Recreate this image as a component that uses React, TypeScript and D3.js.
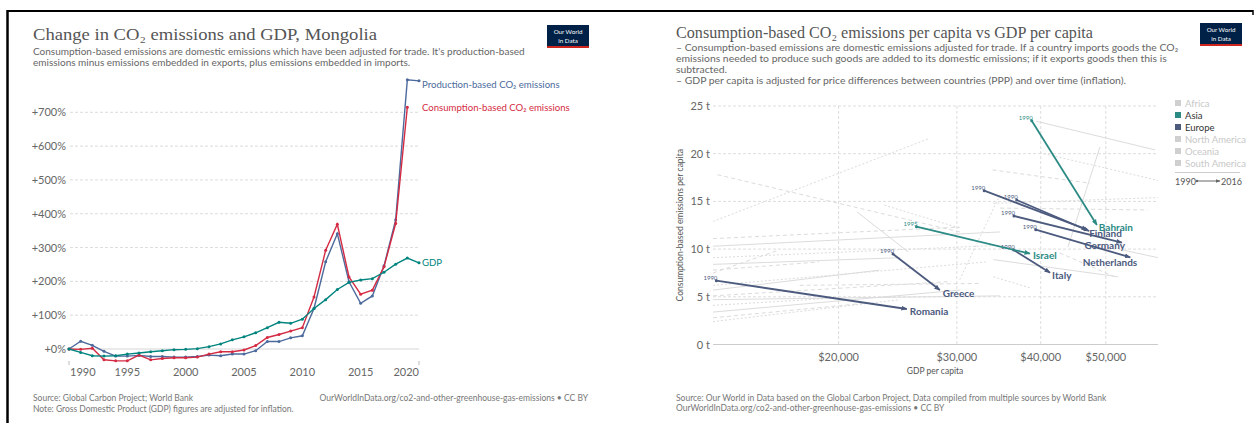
import React from 'react';
import * as d3 from 'd3';

// ---------- LEFT CHART DATA ----------
const years = [1990, 1991, 1992, 1993, 1994, 1995, 1996, 1997, 1998, 1999, 2000, 2001, 2002, 2003, 2004, 2005, 2006, 2007, 2008, 2009, 2010, 2011, 2012, 2013, 2014, 2015, 2016, 2017, 2018, 2019, 2020];
const productionCO2 = [0, 23, 11, -7, -21, -21, -19, -22, -22, -24, -24, -22, -18, -20, -15, -15, -5, 22, 22, 33, 39, 120, 258, 341, 199, 135, 157, 246, 382, 796, 793];
const consumptionCO2 = [0, -1, 2, -32, -35, -35, -18, -32, -28, -26, -26, -24, -15, -8, -8, -3, 10, 34, 43, 53, 63, 154, 292, 369, 213, 162, 174, 243, 371, 715];
const gdpChange = [0, -10, -20, -21, -20, -15, -12, -8, -5, -2, -1, 1, 7, 15, 27, 36, 48, 63, 79, 76, 88, 120, 146, 176, 197, 204, 208, 227, 251, 269, 255];
const yTicksLeft = [0, 100, 200, 300, 400, 500, 600, 700];
const xTicksLeft = [1990, 1995, 2000, 2005, 2010, 2015, 2020];
const seriesNames = ['Production-based CO₂ emissions', 'Consumption-based CO₂ emissions', 'GDP'];

// ---------- RIGHT CHART DATA ----------
const yTicksRight = [0, 5, 10, 15, 20, 25];
const xTicksRight = [20000, 30000, 40000, 50000];
const regions = ['Africa', 'Asia', 'Europe', 'North America', 'Oceania', 'South America'];
const hlNames = ['Bahrain', 'Finland', '', 'Germany', 'Netherlands', 'Italy', 'Israel', 'Greece', 'Romania'];
const hlRegion = ['Asia', 'Europe', 'Europe', 'Europe', 'Europe', 'Europe', 'Asia', 'Europe', 'Europe'];
const hlStartYear = ['1990', '1990', '1990', '1990', '1990', '1990', '1995', '1990', '1990'];
const hlStartGdp = [38780, 32950, 36830, 36490, 39320, 36460, 26120, 24100, 13150];
const hlStartCo2 = [23.46, 16.12, 15.15, 13.47, 12.03, 9.9, 12.35, 9.49, 6.69];
const hlEndGdp = [48490, 46900, 47220, 52840, 54370, 41300, 38550, 28300, 25270];
const hlEndCo2 = [12.53, 12.05, 11.9, 10.67, 9.14, 7.53, 9.52, 5.71, 3.72];

const greyStartGdp = [13000, 13200, 21300, 23400, 13000, 13000, 34000, 34800, 39400, 39900, 33900, 43900, 30300, 42700, 53000, 13000, 13000, 13000, 13000, 13000, 13000, 13000, 13000, 13000, 13000, 13000, 34000, 34000, 17500, 13000];
const greyStartCo2 = [12.9, 17.8, 13.9, 14.6, 11.1, 10.3, 14.8, 14.3, 23.4, 20.1, 18.3, 10.2, 6.8, 9.6, 9.9, 2.4, 2.8, 3.4, 4.1, 5.1, 5.7, 6.2, 7.8, 8.4, 9.1, 7.5, 8.9, 7.1, 6.2, 4.7];
const greyEndGdp = [27300, 30300, 25400, 30300, 30300, 34800, 59800, 57700, 59200, 59800, 47400, 49000, 34900, 51500, 59800, 24700, 22100, 30300, 20100, 29400, 23000, 33100, 18700, 24700, 34800, 16300, 52200, 38700, 32500, 34800];
const greyEndCo2 = [21.6, 11.8, 9.7, 12.2, 12.3, 11.8, 15.4, 14.1, 20.4, 17.2, 16.9, 20.7, 15.9, 7.1, 9.1, 4.7, 4.35, 5.7, 4.9, 6.6, 7.8, 8.65, 8.65, 9.1, 10.4, 9.9, 7.1, 5.9, 6.4, 5.1];

// ---------- STYLE ----------
const SANS = "Lato, 'Noto Sans', sans-serif";
const SERIF = "'Liberation Serif', 'DejaVu Serif', serif";
const BLUE = '#4c6a9c';
const RED = '#d42b43';
const TEAL = '#00847e';
const ASIA = '#2b8a84';
const EUROPE = '#4c5a7e';
const GREY = '#cfcfcf';
const seriesColors = [BLUE, RED, TEAL];
const labelNudge = [4, 0, 0];
const hlLabelDx = [2, 2, 0, 3, 7, 2, 3, 3, 3];
const hlLabelDy = [2.2, 4.2, 0, 3, 5, 3.3, 2, 3, 2];
const hlLabelAnchor = ['start', 'start', 'start', 'end', 'end', 'start', 'start', 'start', 'start'];
const greyDash = ['2,2', '4,3', 'none'];

function Logo({ x, y }: { x: number; y: number }) {
  return (
    <g transform={`translate(${x},${y})`}>
      <rect width={42} height={21} fill="#002147" />
      <rect y={21} width={42} height={2} fill="#ce261e" />
      <text textAnchor="middle" fill="#fff" fontSize={6.2} fontFamily={SANS}>
        <tspan x={21} y={8.5}>Our World</tspan>
        <tspan x={21} y={17.5}>in Data</tspan>
      </text>
    </g>
  );
}

function LeftChart() {
  const xL = d3.scaleLinear().domain([1990, 2020]).range([69, 419]);
  const yL = d3.scaleLinear().domain([0, 700]).range([349, 112.3]);
  const all = [productionCO2, consumptionCO2, gdpChange];
  const line = (vals: number[]) =>
    d3.line<number>().x((_, i) => xL(years[i])).y((d) => yL(d))(vals) || '';
  return (
    <g>
      <text x={33} y={40} fontFamily={SERIF} fontSize={17.5} fill="#555" textLength={344} lengthAdjust="spacingAndGlyphs">
        Change in CO₂ emissions and GDP, Mongolia
      </text>
      <text x={33} y={55} fontFamily={SANS} fontSize={10} fill="#666">
        Consumption-based emissions are domestic emissions which have been adjusted for trade. It's production-based
      </text>
      <text x={33} y={66} fontFamily={SANS} fontSize={10} fill="#666">
        emissions minus emissions embedded in exports, plus emissions embedded in imports.
      </text>
      <Logo x={547} y={25} />
      {yTicksLeft.map((t) => (
        <g key={t}>
          <line x1={70} x2={419} y1={yL(t)} y2={yL(t)} stroke={t === 0 ? '#d5d5d5' : '#dcdcdc'} strokeDasharray={t === 0 ? 'none' : '3,2'} />
          <text x={66} y={yL(t) + 4} textAnchor="end" fontFamily={SANS} fontSize={11} fill="#666">{`+${t}%`}</text>
        </g>
      ))}
      {[1990, 2020].map((t) => (
        <line key={t} x1={xL(t)} x2={xL(t)} y1={361} y2={365} stroke="#bbb" />
      ))}
      {xTicksLeft.map((t, i) => (
        <text key={t} x={i === 0 ? xL(t) + 1 : xL(t)}
          y={376} textAnchor={i === 0 ? 'start' : i === xTicksLeft.length - 1 ? 'end' : 'middle'}
          fontFamily={SANS} fontSize={11} fill="#666">{t}</text>
      ))}
      {all.map((vals, s) => (
        <g key={s}>
          <path d={line(vals)} fill="none" stroke={seriesColors[s]} strokeWidth={1.4} />
          {vals.map((v, i) => (
            <circle key={i} cx={xL(years[i])} cy={yL(v)} r={1.5} fill={seriesColors[s]} />
          ))}
          <text x={422} y={yL(vals[vals.length - 1]) + labelNudge[s] + 3.5} fontFamily={SANS} fontSize={9.6} fill={seriesColors[s]}>
            {seriesNames[s]}
          </text>
        </g>
      ))}
      <text x={33} y={400.5} fontFamily={SANS} fontSize={8.5} fill="#777">Source: Global Carbon Project; World Bank</text>
      <text x={33} y={411.5} fontFamily={SANS} fontSize={8.5} fill="#777">Note: Gross Domestic Product (GDP) figures are adjusted for inflation.</text>
      <text x={588} y={400.5} textAnchor="end" fontFamily={SANS} fontSize={8.5} fill="#777">OurWorldInData.org/co2-and-other-greenhouse-gas-emissions • CC BY</text>
    </g>
  );
}

function RightChart() {
  const xR = d3.scaleLog().domain([13000, 59800]).range([713, 1158]);
  const yR = d3.scaleLinear().domain([0, 25]).range([344.5, 106]);
  const colorOf = (r: string) => (r === 'Asia' ? ASIA : r === 'Europe' ? EUROPE : GREY);
  return (
    <g>
      <defs>
        <marker id="arrAsia" viewBox="0 0 10 10" refX={9} refY={5} markerWidth={6} markerHeight={6} markerUnits="userSpaceOnUse" orient="auto">
          <path d="M0,1 L10,5 L0,9 z" fill={ASIA} />
        </marker>
        <marker id="arrEurope" viewBox="0 0 10 10" refX={9} refY={5} markerWidth={6} markerHeight={6} markerUnits="userSpaceOnUse" orient="auto">
          <path d="M0,1 L10,5 L0,9 z" fill={EUROPE} />
        </marker>
        <marker id="arrLegend" viewBox="0 0 10 10" refX={9} refY={5} markerWidth={5} markerHeight={5} markerUnits="userSpaceOnUse" orient="auto">
          <path d="M0,1 L10,5 L0,9 z" fill="#666" />
        </marker>
      </defs>
      <text x={676} y={38} fontFamily={SERIF} fontSize={17.5} fill="#555" textLength={417} lengthAdjust="spacingAndGlyphs">
        Consumption-based CO₂ emissions per capita vs GDP per capita
      </text>
      {[
        '– Consumption-based emissions are domestic emissions adjusted for trade. If a country imports goods the CO₂',
        'emissions needed to produce such goods are added to its domestic emissions; if it exports goods then this is',
        'subtracted.',
        '– GDP per capita is adjusted for price differences between countries (PPP) and over time (inflation).',
      ].map((s, i) => (
        <text key={i} x={676} y={51 + i * 11} fontFamily={SANS} fontSize={10.4} fill="#666">{s}</text>
      ))}
      <Logo x={1200} y={23} />
      {/* grid */}
      {yTicksRight.map((t) => (
        <g key={t}>
          <line x1={713} x2={1158} y1={yR(t)} y2={yR(t)} stroke={t === 0 ? '#ccc' : '#ddd'} strokeDasharray={t === 0 ? 'none' : '3,2'} />
          <text x={710} y={yR(t) + 4} textAnchor="end" fontFamily={SANS} fontSize={11} fill="#666">{`${t} t`}</text>
        </g>
      ))}
      {xTicksRight.map((t) => (
        <g key={t}>
          <line x1={xR(t)} x2={xR(t)} y1={106} y2={344.5} stroke="#ddd" strokeDasharray="3,2" />
          <text x={xR(t)} y={361} textAnchor="middle" fontFamily={SANS} fontSize={11} fill="#666">{d3.format('$,')(t)}</text>
        </g>
      ))}
      <text x={935} y={374} textAnchor="middle" fontFamily={SANS} fontSize={8.5} fill="#555">GDP per capita</text>
      <text transform={`translate(683,${(106 + 344.5) / 2}) rotate(-90)`} textAnchor="middle" fontFamily={SANS} fontSize={8.5} fill="#555">
        Consumption-based emissions per capita
      </text>
      {/* grey background countries */}
      {greyStartGdp.map((g, i) => (
        <line key={i} x1={xR(g)} y1={yR(greyStartCo2[i])} x2={xR(greyEndGdp[i])} y2={yR(greyEndCo2[i])}
          stroke="#dcdcdc" strokeWidth={1} strokeDasharray={greyDash[i % 3]} />
      ))}
      {/* highlighted countries */}
      {hlNames.map((n, i) => {
        const c = colorOf(hlRegion[i]);
        const x1 = xR(hlStartGdp[i]);
        const y1 = yR(hlStartCo2[i]);
        const x2 = xR(hlEndGdp[i]);
        const y2 = yR(hlEndCo2[i]);
        return (
          <g key={i}>
            <line x1={x1} y1={y1} x2={x2} y2={y2} stroke={c} strokeWidth={1.8}
              markerEnd={`url(#${hlRegion[i] === 'Asia' ? 'arrAsia' : 'arrEurope'})`} />
            <circle cx={x1} cy={y1} r={1.5} fill={c} />
            <text x={x1 + 1} y={y1 - 1} textAnchor="end" fontFamily={SANS} fontSize={6} fill={c}>{hlStartYear[i]}</text>
            {n && (
              <text x={x2 + hlLabelDx[i]} y={y2 + hlLabelDy[i] + 3.5} textAnchor={hlLabelAnchor[i] as any}
                fontFamily={SANS} fontSize={10} fontWeight="bold" fill={c}>{n}</text>
            )}
          </g>
        );
      })}
      {/* legend */}
      {regions.map((r, i) => {
        const c = colorOf(r);
        return (
          <g key={r}>
            <rect x={1175} y={100 + i * 12} width={6} height={6} fill={c} />
            <text x={1185} y={107 + i * 12} fontFamily={SANS} fontSize={9.5} fill={c === GREY ? '#c8c8c8' : '#333'}>{r}</text>
          </g>
        );
      })}
      <line x1={1175} x2={1240} y1={172.5} y2={172.5} stroke="#ccc" />
      <text x={1175} y={184.5} fontFamily={SANS} fontSize={9} fill="#555">1990</text>
      <circle cx={1197} cy={181} r={1.2} fill="#666" />
      <line x1={1197} x2={1220} y1={181} y2={181} stroke="#666" strokeWidth={1} markerEnd="url(#arrLegend)" />
      <text x={1221} y={184.5} fontFamily={SANS} fontSize={9} fill="#555">2016</text>
      <text x={676} y={400.5} fontFamily={SANS} fontSize={8.5} fill="#777">
        Source: Our World in Data based on the Global Carbon Project, Data compiled from multiple sources by World Bank
      </text>
      <text x={676} y={411} fontFamily={SANS} fontSize={8.5} fill="#777">
        OurWorldInData.org/co2-and-other-greenhouse-gas-emissions • CC BY
      </text>
    </g>
  );
}

export default function App() {
  return (
    <svg width={1255} height={423} style={{ position: 'absolute', left: 0, top: 0, background: '#fff' }}>
      <rect width={1255} height={423} fill="#fff" />
      <line x1={8} x2={1253} y1={11} y2={11} stroke="#000" strokeWidth={2} />
      <line x1={7.5} x2={7.5} y1={10} y2={423} stroke="#000" strokeWidth={2.5} />
      <line x1={1253} x2={1253} y1={10} y2={15} stroke="#000" strokeWidth={1.5} />
      <LeftChart />
      <RightChart />
    </svg>
  );
}
